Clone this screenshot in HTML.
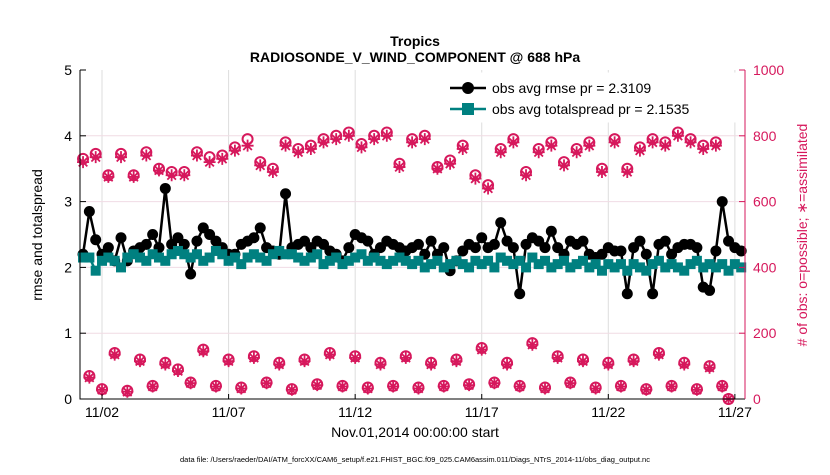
<!DOCTYPE html>
<html><head><meta charset="utf-8"><style>
body{margin:0;background:#fff;font-family:"Liberation Sans",sans-serif;}
svg text{font-family:"Liberation Sans",sans-serif;}
</style></head><body>
<svg id="chart" width="830" height="470" xmlns="http://www.w3.org/2000/svg">
<text x="415" y="46" text-anchor="middle" font-size="14" font-weight="bold">Tropics</text>
<text x="415" y="62" text-anchor="middle" font-size="14" font-weight="bold">RADIOSONDE_V_WIND_COMPONENT @ 688 hPa</text>
<g id="grid"></g><g id="marks"></g><g id="axes"></g>
<text x="415" y="437" text-anchor="middle" font-size="14">Nov.01,2014 00:00:00 start</text>
<text transform="translate(42,235) rotate(-90)" text-anchor="middle" font-size="14">rmse and totalspread</text>
<text fill="#d6185c" transform="translate(807,235) rotate(-90)" text-anchor="middle" font-size="14"># of obs: o=possible; ∗=assimilated</text>
<text x="415" y="462" text-anchor="middle" font-size="7.5">data file: /Users/raeder/DAI/ATM_forcXX/CAM6_setup/f.e21.FHIST_BGC.f09_025.CAM6assim.011/Diags_NTrS_2014-11/obs_diag_output.nc</text>
<g>
<rect x="445" y="73" width="295" height="49" fill="#fff" stroke="#fff"/>
<line x1="450" y1="88" x2="486" y2="88" stroke="#000" stroke-width="2.5"/><circle cx="468" cy="88" r="6" fill="#000"/>
<text x="492" y="93" font-size="14">obs avg rmse pr = 2.3109</text>
<line x1="450" y1="109" x2="486" y2="109" stroke="#008080" stroke-width="2.5"/><rect x="462" y="103" width="12" height="12" fill="#008080"/>
<text x="492" y="114" font-size="14">obs avg totalspread pr = 2.1535</text>
</g>
</svg>
<script>
const rmse=[2.2,2.85,2.42,2.2,2.3,2.1,2.45,2.1,2.25,2.3,2.35,2.5,2.3,3.2,2.35,2.45,2.35,1.9,2.4,2.6,2.5,2.4,2.3,2.2,2.2,2.35,2.4,2.45,2.6,2.3,2.25,2.2,3.12,2.3,2.35,2.4,2.3,2.4,2.35,2.25,2.2,2.1,2.3,2.5,2.45,2.4,2.2,2.3,2.4,2.35,2.3,2.25,2.3,2.35,2.2,2.4,2.2,2.3,1.95,2.1,2.25,2.35,2.3,2.45,2.3,2.35,2.68,2.4,2.3,1.6,2.35,2.45,2.4,2.3,2.55,2.3,2.2,2.4,2.35,2.4,2.2,2.15,2.2,2.3,2.25,2.25,1.6,2.3,2.4,2.2,1.6,2.35,2.4,2.2,2.3,2.35,2.35,2.3,1.7,1.65,2.25,3.0,2.4,2.3,2.25];
const spread=[2.15,2.15,1.95,2.1,2.15,2.1,2.0,2.15,2.2,2.15,2.1,2.2,2.15,2.1,2.2,2.25,2.2,2.15,2.2,2.1,2.15,2.25,2.2,2.1,2.15,2.05,2.15,2.2,2.15,2.1,2.2,2.25,2.2,2.2,2.15,2.1,2.15,2.2,2.05,2.1,2.15,2.05,2.1,2.15,2.2,2.1,2.15,2.1,2.05,2.1,2.15,2.1,2.05,2.1,2.0,2.05,2.1,2.0,2.05,2.1,2.05,2.0,2.1,2.05,2.1,2.0,2.15,2.1,2.05,2.1,2.0,2.15,2.05,2.1,2.0,2.05,2.1,2.0,2.05,2.1,2.0,2.05,1.95,2.05,2.0,2.05,1.95,2.05,2.0,1.95,2.05,2.1,2.0,2.05,2.0,1.95,2.05,2.1,2.0,2.05,2.0,2.05,1.95,2.05,2.0];
const possible=[730,70,745,30,680,140,745,25,680,120,750,40,700,110,690,90,690,50,750,150,735,40,740,120,765,35,790,130,720,50,700,110,780,30,760,120,770,45,790,140,800,40,810,130,775,35,800,110,810,40,715,130,790,35,800,110,705,40,725,120,770,45,680,155,650,50,760,110,790,40,690,170,760,35,780,130,720,50,760,120,780,35,700,110,790,40,700,120,765,30,790,140,780,40,810,110,790,30,770,100,780,40,0];
const assimilated=[720,65,735,28,675,135,735,22,675,115,740,38,695,105,680,85,680,48,740,145,720,38,730,115,755,32,770,125,710,48,690,105,770,28,750,115,760,42,780,135,790,38,800,125,765,32,790,105,800,38,705,125,780,32,790,105,700,38,715,115,760,42,670,150,640,48,750,105,780,38,680,165,750,32,770,125,710,48,750,115,770,32,690,105,780,38,690,115,755,28,780,135,770,38,800,105,780,28,760,95,770,38,0];
const NS="http://www.w3.org/2000/svg";
const X0=80,X1=745,Y0=399,Y1=70,T0=0.13,T1=26.4;
const xs=t=>X0+(t-T0)/(T1-T0)*(X1-X0);
const yL=v=>Y0-v/5*(Y0-Y1);
const yR=v=>Y0-v/1000*(Y0-Y1);
const tOf=i=>0.25+i*0.25;
function mk(tag,attrs,parent){const e=document.createElementNS(NS,tag);for(const k in attrs)e.setAttribute(k,attrs[k]);parent.appendChild(e);return e;}
const grid=document.getElementById('grid'),marks=document.getElementById('marks'),axes=document.getElementById('axes');
const xTicks=[1,6,11,16,21,26],xLabels=['11/02','11/07','11/12','11/17','11/22','11/27'];
xTicks.forEach((d,k)=>{const x=xs(d);
 const g=mk('line',{x1:x,x2:x,y1:Y1,y2:Y0,stroke:'#ddd','stroke-width':1},grid);
 
 
 const t=mk('text',{x:x,y:Y0+18,'text-anchor':'middle','font-size':14},axes);t.textContent=xLabels[k];
 
 
 mk('line',{x1:x,x2:x,y1:Y0,y2:Y0-5,stroke:'#000'},axes);
});
const yTicks=[0,1,2,3,4,5];
yTicks.forEach(v=>{const y=yL(v);
 if(v>0&&v<5){const g=mk('line',{x1:X0,x2:X1,y1:y,y2:y,stroke:'#f0dce4','stroke-width':1},grid);
 
 }
 const t=mk('text',{x:X0-8,y:y+5,'text-anchor':'end','font-size':14},axes);t.textContent=v;
 
 
 mk('line',{x1:X0,x2:X0+6,y1:y,y2:y,stroke:'#000'},axes);
});
const y2Ticks=[0,200,400,600,800,1000];
y2Ticks.forEach(v=>{const y=yR(v);
 const t=mk('text',{x:X1+8,y:y+5,'font-size':14,fill:'#d6185c'},axes);t.textContent=v;
 
 
 mk('line',{x1:X1,x2:X1-6,y1:y,y2:y,stroke:'#d6185c'},axes);
});
const ax=mk('path',{d:`M${X0},${Y1}V${Y0}H${X1}`,fill:'none',stroke:'#000'},axes);


const ax2=mk('line',{x1:X1,x2:X1,y1:Y1,y2:Y0,stroke:'#d6185c'},axes);


// counts
possible.forEach((v,i)=>{const x=xs(tOf(i)),y=yR(v);
 const c=mk('circle',{cx:x,cy:y,r:5,fill:'none',stroke:'#d6185c','stroke-width':2},marks);
 
 });
assimilated.forEach((v,i)=>{const x=xs(tOf(i)),y=yR(v);const r=6,d=4.3;
 const a=mk('path',{d:`M${x-r},${y}H${x+r}M${x},${y-r}V${y+r}M${x-d},${y-d}L${x+d},${y+d}M${x-d},${y+d}L${x+d},${y-d}`,stroke:'#d6185c','stroke-width':1.8,fill:'none'},marks);
 
 });
// rmse
const rl=mk('polyline',{points:rmse.map((v,i)=>xs(tOf(i))+','+yL(v)).join(' '),fill:'none',stroke:'#000','stroke-width':2.5},marks);


rmse.forEach((v,i)=>{const c=mk('circle',{cx:xs(tOf(i)),cy:yL(v),r:5.5,fill:'#000'},marks);
 
 });
const sl=mk('polyline',{points:spread.map((v,i)=>xs(tOf(i))+','+yL(v)).join(' '),fill:'none',stroke:'#008080','stroke-width':2.5},marks);


spread.forEach((v,i)=>{const r=mk('rect',{x:xs(tOf(i))-5,y:yL(v)-5,width:10,height:10,fill:'#008080'},marks);
 
 });
</script>
</body></html>
